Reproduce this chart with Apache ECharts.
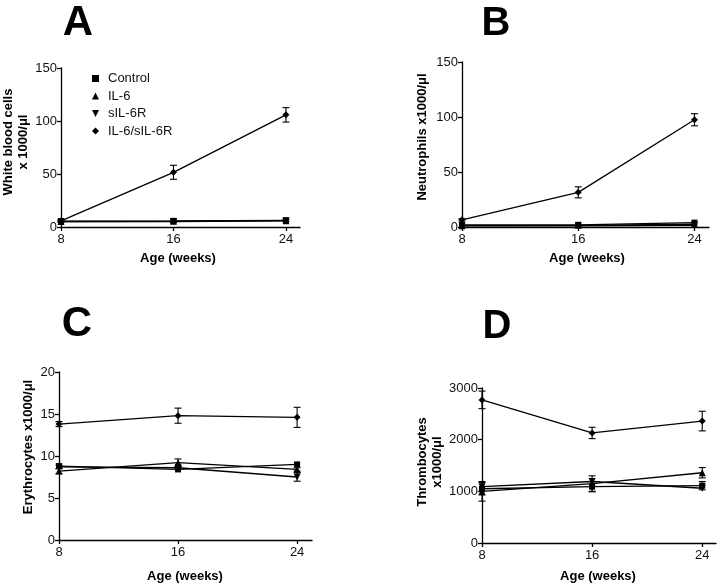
<!DOCTYPE html>
<html><head><meta charset="utf-8">
<script src="https://cdn.jsdelivr.net/npm/echarts@6/dist/echarts.min.js"></script>
<style>html,body{margin:0;padding:0;background:#fff}#c{width:720px;height:585px}</style>
</head><body><div id="c"></div><script>
// ---- data ----
const weeks = [8, 16, 24];
const seriesNames = ['Control', 'IL-6', 'sIL-6R', 'IL-6/sIL-6R'];
const xTicks = [8, 16, 24];

// A: white blood cells
const wbcControl = [5.5, 5.8, 6.2];
const wbcIL6 = [5.2, 5.4, 6.0];
const wbcSIL6R = [5.0, 5.2, 5.8];
const wbcDouble = [5.7, 51.6, 105.8];
const wbcControlErr = [0.8, 1.5, 1.0];
const wbcDoubleErr = [1.0, 6.6, 6.8];

// B: neutrophils
const neuControl = [2.0, 2.0, 4.0];
const neuIL6 = [1.2, 1.5, 2.5];
const neuSIL6R = [1.0, 1.0, 1.5];
const neuDouble = [6.5, 31.5, 97.5];
const neuDoubleErr = [1.0, 5.0, 5.5];

// C: erythrocytes
const eryControl = [8.8, 8.4, 9.0];
const eryIL6 = [8.2, 9.2, 8.4];
const erySIL6R = [8.7, 8.6, 7.5];
const eryDouble = [13.8, 14.8, 14.6];
const eryIL6Err = [0.3, 0.45, 0.2];
const erySIL6RErr = [0.2, 0.2, 0.5];
const eryDoubleErr = [0.3, 0.9, 1.2];

// D: thrombocytes
const thrControl = [1050, 1090, 1110];
const thrIL6 = [1000, 1150, 1360];
const thrSIL6R = [1090, 1190, 1060];
const thrDouble = [2770, 2130, 2360];
const thrControlErr = [120, 100, 80];
const thrIL6Err = [190, 150, 100];
const thrDoubleErr = [170, 110, 190];

const yMaxes = [150, 150, 20, 3000];
const yIntervals = [50, 50, 5, 1000];

// ---- layout ----
const grids = [
  {left: 61, top: 68, width: 239, height: 159},
  {left: 462, top: 62, width: 247, height: 165},
  {left: 59, top: 372, width: 253, height: 168},
  {left: 482, top: 388, width: 234, height: 155}
];
const symbols = ['rect', 'triangle', 'path://M0,0 L10,0 L5,10 Z', 'diamond'];
const symbolSizes = [6, 7, 7, 7];

const panelValues = [
  [wbcControl, wbcIL6, wbcSIL6R, wbcDouble],
  [neuControl, neuIL6, neuSIL6R, neuDouble],
  [eryControl, eryIL6, erySIL6R, eryDouble],
  [thrControl, thrIL6, thrSIL6R, thrDouble]
];
const panelErrs = [
  [wbcControlErr, null, null, wbcDoubleErr],
  [null, null, null, neuDoubleErr],
  [null, eryIL6Err, erySIL6RErr, eryDoubleErr],
  [thrControlErr, thrIL6Err, null, thrDoubleErr]
];

const font = 'Liberation Sans, Arial, Helvetica, sans-serif';
const xAxes = [], yAxes = [], series = [];
grids.forEach((g, i) => {
  xAxes.push({
    gridIndex: i, type: 'value', min: 8, max: 25, interval: 8,
    axisLine: {show: true, lineStyle: {color: '#000', width: 1.3}},
    axisTick: {show: true, length: 4, customValues: xTicks, lineStyle: {color: '#000', width: 1.3}},
    axisLabel: {customValues: xTicks, color: '#111', fontSize: 13, fontFamily: font, margin: 6},
    splitLine: {show: false}
  });
  yAxes.push({
    gridIndex: i, type: 'value', min: 0, max: yMaxes[i], interval: yIntervals[i],
    axisLine: {show: true, lineStyle: {color: '#000', width: 1.3}},
    axisTick: {show: true, length: 4, lineStyle: {color: '#000', width: 1.3}},
    axisLabel: {color: '#111', fontSize: 13, fontFamily: font, margin: 4,
      formatter: v => String(v)},
    splitLine: {show: false}
  });
  panelValues[i].forEach((vals, s) => {
    series.push({
      name: seriesNames[s], type: 'line', xAxisIndex: i, yAxisIndex: i,
      data: weeks.map((w, k) => [w, vals[k]]),
      symbol: symbols[s], symbolSize: symbolSizes[s], showAllSymbol: true,
      lineStyle: {color: '#000', width: 1.3}, itemStyle: {color: '#000'},
      emphasis: {disabled: true}, animation: false, clip: false, z: 3
    });
    const errs = panelErrs[i][s];
    if (errs) {
      series.push({
        name: 'err' + i + s, type: 'custom', xAxisIndex: i, yAxisIndex: i,
        data: weeks.map((w, k) => [w, vals[k] - errs[k], vals[k] + errs[k]]),
        encode: {x: 0, y: [1, 2]}, clip: false, animation: false, silent: true, z: 2,
        renderItem: function (params, api) {
          const x = api.value(0);
          const p1 = api.coord([x, api.value(2)]);
          const p2 = api.coord([x, api.value(1)]);
          const hw = 3.5, st = {stroke: '#000', lineWidth: 1.1};
          return {type: 'group', children: [
            {type: 'line', shape: {x1: p1[0], y1: p1[1], x2: p2[0], y2: p2[1]}, style: st},
            {type: 'line', shape: {x1: p1[0] - hw, y1: p1[1], x2: p1[0] + hw, y2: p1[1]}, style: st},
            {type: 'line', shape: {x1: p2[0] - hw, y1: p2[1], x2: p2[0] + hw, y2: p2[1]}, style: st}
          ]};
        }
      });
    }
  });
});

function txt(x, y, text, size, bold, rot) {
  return {type: 'text', x: x, y: y, rotation: rot || 0, silent: true,
    style: {text: text, fontSize: size, fontWeight: bold ? 'bold' : 'normal', fontFamily: font,
      fill: '#000', align: 'center', verticalAlign: 'middle', lineHeight: size + 2}};
}
const R = Math.PI / 2;
const graphics = [
  txt(78, 23, 'A', 42, true), txt(496, 24, 'B', 40, true),
  txt(77, 324, 'C', 42, true), txt(497, 327, 'D', 40, true),
  txt(178, 258, 'Age (weeks)', 13, true), txt(587, 258, 'Age (weeks)', 13, true),
  txt(185, 576, 'Age (weeks)', 13, true), txt(598, 576, 'Age (weeks)', 13, true),
  txt(16, 142, 'White blood cells\nx 1000/\u03bcl', 13, true, R),
  txt(422, 137, 'Neutrophils x1000/\u03bcl', 13, true, R),
  txt(28, 447, 'Erythrocytes x1000/\u03bcl', 13, true, R),
  txt(430, 462, 'Thrombocytes\nx1000/\u03bcl', 13, true, R)
];

const chart = echarts.init(document.getElementById('c'), null, {renderer: 'canvas'});
chart.setOption({
  backgroundColor: '#fff',
  animation: false,
  grid: grids,
  xAxis: xAxes,
  yAxis: yAxes,
  series: series,
  legend: {
    left: 87, top: 67, orient: 'vertical', itemGap: 4.5, itemWidth: 7, itemHeight: 7,
    selectedMode: false,
    data: seriesNames.map((n, s) => ({name: n, icon: symbols[s]})),
    textStyle: {fontSize: 13, fontFamily: font, color: '#111', padding: [0, 0, 0, 4]}
  },
  graphic: graphics
});
</script></body></html>
